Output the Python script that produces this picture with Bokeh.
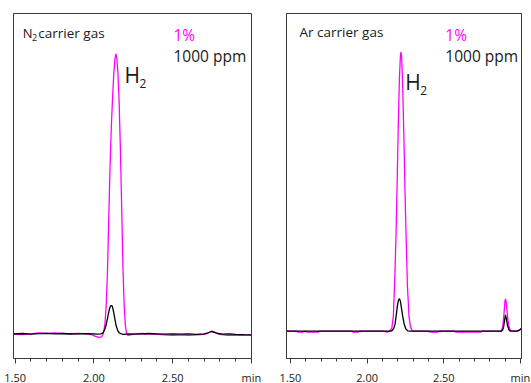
from bokeh.plotting import figure
from bokeh.models import Range1d, FixedTicker, CustomJSTickFormatter, Label
from bokeh.layouts import row
from bokeh.embed import file_html
from bokeh.resources import INLINE

# ---------------- data (retention time in min, detector signal in a.u.) ----------------
x_major_ticks = [1.5, 2.0, 2.5, 3.0]
x_minor_ticks = [1.5, 1.6, 1.7, 1.8, 1.9, 2.0, 2.1, 2.2, 2.3, 2.4, 2.5, 2.6, 2.7, 2.8, 2.9, 3.0]
axis_unit = "min"
legend_1pct = "1%"
legend_1000ppm = "1000 ppm"
peak_name = "H"

# N2 carrier gas, 1 % H2 (magenta)
n2_t_1pct = [1.489, 1.55, 1.60, 1.65, 1.70, 1.75, 1.80, 1.85, 1.90, 1.95, 1.99, 2.01, 2.03, 2.05, 2.056,
             2.062, 2.070, 2.078, 2.086, 2.094, 2.102, 2.110, 2.118, 2.126, 2.133, 2.139, 2.145, 2.152,
             2.160, 2.168, 2.176, 2.184, 2.192, 2.200, 2.208, 2.215, 2.23, 2.26, 2.30, 2.35, 2.40, 2.45,
             2.50, 2.55, 2.60, 2.65, 2.70, 2.725, 2.748, 2.77, 2.80, 2.85, 2.90, 2.95, 3.0]
n2_y_1pct = [-0.5, -0.8, 0.0, 1.0, 0.5, 1.0, 0.5, 0.0, 0.5, 0.0, -1.0, -2.5, -3.5, -3.0, -1.0,
             2, 10, 28, 62, 115, 165, 205, 235, 260, 274, 280, 276, 262,
             232, 185, 128, 68, 28, 8, 0, -1.5, -1.0, 0.0, 0.3, 0.0, -0.5, -1.0,
             -1.5, -1.0, -1.5, -1.0, -0.5, 0.8, 2.8, 1.5, -0.5, -1.5, -1.2, -1.5, -1.2]

# N2 carrier gas, 1000 ppm H2 (black)
n2_t_1000 = [1.489, 1.55, 1.60, 1.65, 1.70, 1.75, 1.80, 1.85, 1.90, 1.95, 2.00, 2.02, 2.045, 2.058,
             2.068, 2.078, 2.088, 2.098, 2.106, 2.112, 2.118, 2.126, 2.134, 2.142, 2.152, 2.162, 2.175,
             2.19, 2.22, 2.26, 2.30, 2.35, 2.40, 2.45, 2.50, 2.55, 2.60, 2.65, 2.70, 2.725, 2.745,
             2.765, 2.785, 2.82, 2.86, 2.90, 2.95, 3.0]
n2_y_1000 = [0.0, 0.3, -0.3, 0.2, 0.5, 0.0, 0.3, -0.2, 0.0, 0.2, 0.0, -0.3, 0.0, 1.0,
             4, 9, 17, 24.5, 28, 28.3, 27, 21, 14, 7.5, 3, 0.8, 0.0,
             -0.5, 0.0, -0.3, 0.0, 0.3, 0.0, -0.3, 0.0, -0.4, 0.0, -0.5, 0.0, 1.0, 2.3,
             1.5, 0.3, -0.3, 0.0, -0.5, -0.8, -1.0]

# Ar carrier gas, 1 % H2 (magenta)
ar_t_1pct = [1.474, 1.54, 1.55, 1.58, 1.59, 1.61, 1.68, 1.69, 1.90, 1.91, 1.94, 1.95, 2.10, 2.135,
             2.146, 2.161, 2.171, 2.181, 2.189, 2.196, 2.203, 2.211, 2.217, 2.221, 2.225, 2.231, 2.239,
             2.247, 2.255, 2.263, 2.273, 2.283, 2.296, 2.40, 2.41, 2.46, 2.47, 2.57, 2.58, 2.74, 2.75,
             2.875, 2.885, 2.893, 2.899, 2.903, 2.908, 2.915, 2.923, 2.935, 2.95, 2.98, 2.995, 3.0, 3.007]
ar_y_1pct = [0.0, 0.0, -1.0, -1.0, 0.0, -1.0, -1.0, 0.0, 0.0, -1.0, -1.0, 0.0, 0.0, -0.8,
             0.0, 3, 15, 55, 100, 150, 205, 255, 275, 279, 274, 250, 200,
             140, 90, 45, 15, 4, 0.0, 0.0, -1.0, -1.0, 0.0, 0.0, -1.0, -1.0, 0.0,
             0.0, 5, 18, 30, 32.4, 28, 16, 6, 0.5, 0.0, 0.0, 1.0, 2.0, 2.5]

# Ar carrier gas, 1000 ppm H2 (black)
ar_t_1000 = [1.474, 2.155, 2.165, 2.174, 2.182, 2.190, 2.198, 2.205, 2.211, 2.217, 2.225, 2.233,
             2.242, 2.252, 2.265, 2.28, 2.875, 2.883, 2.890, 2.896, 2.902, 2.908, 2.915, 2.925,
             2.935, 2.975, 2.99, 3.0, 3.007]
ar_y_1000 = [0.0, 0.0, 0.8, 3, 7, 16, 26, 31.5, 32.4, 30, 22, 14,
             7, 2.5, 0.3, 0.0, 0.0, 1.0, 4, 10, 16.4, 13, 6, 1.5,
             0.0, 0.0, 0.8, 2.0, 2.5]

# ---------------- styling ----------------
FONT = "Open Sans"
TXT = "#1a1a1a"
FRAME = "#3a3a3a"
MAGENTA = "#ff00ff"


def make_panel(t_m, y_m, t_b, y_b, xr, yr, fw, bl, br):
    p = figure(frame_width=fw, frame_height=345, x_range=Range1d(*xr), y_range=Range1d(*yr),
               output_backend="svg", toolbar_location=None, y_axis_location=None,
               min_border_left=bl, min_border_right=br, min_border_top=13, min_border_bottom=22,
               background_fill_color="white", border_fill_color="white")
    p.xgrid.visible = False
    p.ygrid.visible = False
    p.outline_line_color = FRAME
    p.outline_line_width = 1
    ax = p.xaxis[0]
    ax.ticker = FixedTicker(ticks=x_major_ticks, minor_ticks=x_minor_ticks)
    ax.formatter = CustomJSTickFormatter(
        args=dict(unit=axis_unit),
        code="return tick > 2.99 ? unit : tick.toFixed(2);")
    ax.axis_line_color = FRAME
    ax.major_tick_line_color = FRAME
    ax.minor_tick_line_color = FRAME
    ax.major_tick_in = 0
    ax.major_tick_out = 5
    ax.minor_tick_in = 0
    ax.minor_tick_out = 3
    ax.major_label_standoff = 6
    ax.major_label_text_font = FONT
    ax.major_label_text_font_size = "11px"
    ax.major_label_text_color = TXT
    p.line(t_m, y_m, line_color=MAGENTA, line_width=1.3)
    p.line(t_b, y_b, line_color="black", line_width=1.3)
    return p


def lab(p, x, y, text, size, color=TXT):
    # y is the intended baseline height above the frame bottom; shift compensates label box offset
    shift = 0.46 * float(size.replace("px", ""))
    p.add_layout(Label(x=x, y=y + shift, x_units="screen", y_units="screen", text=text,
                       text_font=FONT, text_font_size=size, text_color=color,
                       text_baseline="alphabetic", text_align="left"))


p1 = make_panel(n2_t_1pct, n2_y_1pct, n2_t_1000, n2_y_1000,
                (1.4893, 3.0005), (-24.7, 320.3), 238, 13, 17)
lab(p1, 9.2, 319.5, "N", "13px")
lab(p1, 18.6, 317.0, "2", "9px")
lab(p1, 24.8, 319.5, "carrier gas", "13.5px")
lab(p1, 160.0, 316.3, legend_1pct, "15.5px", MAGENTA)
lab(p1, 160.0, 295.3, legend_1000ppm, "15.5px")
lab(p1, 111.0, 274.0, peak_name, "21px")
lab(p1, 126.0, 269.5, "2", "12px")

p2 = make_panel(ar_t_1pct, ar_y_1pct, ar_t_1000, ar_y_1000,
                (1.474, 3.007), (-27.3, 317.7), 235, 18, 10)
lab(p2, 13.0, 320.3, "Ar carrier gas", "13.5px")
lab(p2, 158.8, 316.3, legend_1pct, "15.5px", MAGENTA)
lab(p2, 158.8, 295.3, legend_1000ppm, "15.5px")
lab(p2, 118.7, 267.0, peak_name, "21px")
lab(p2, 133.7, 262.3, "2", "12px")

layout = row(p1, p2)
open("out.html", "w").write(file_html(layout, INLINE))
